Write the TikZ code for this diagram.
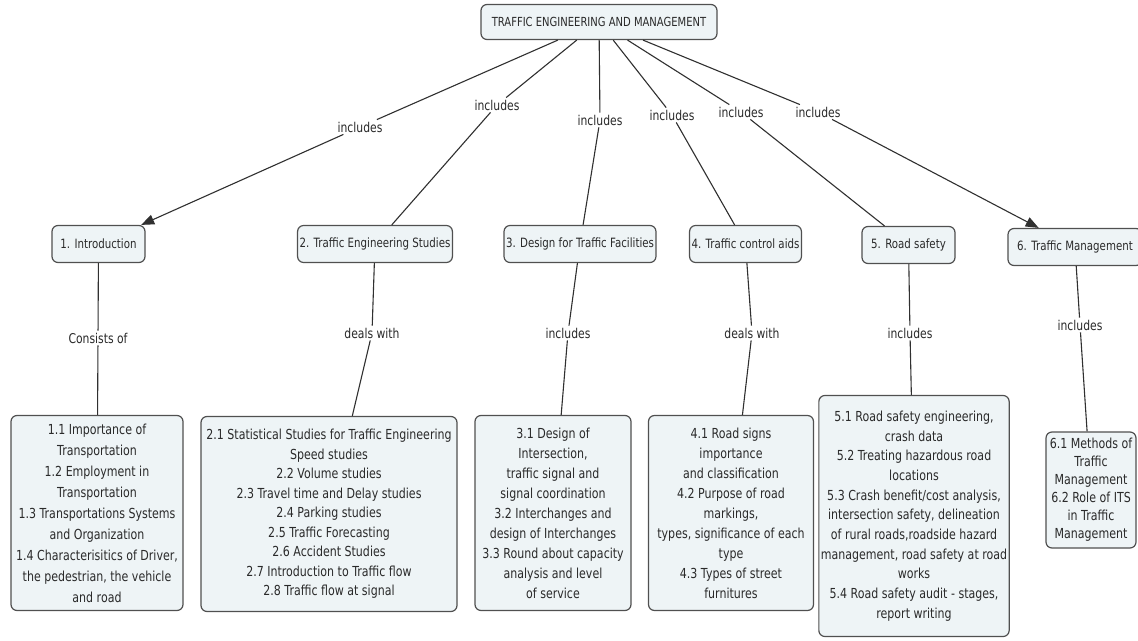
\documentclass[tikz,border=0pt]{standalone}
\usepackage{fontspec}
\setmainfont[FakeStretch=0.8]{DejaVu Sans}
\usetikzlibrary{arrows.meta}
\definecolor{boxfill}{HTML}{EEF4F6}
\definecolor{boxline}{HTML}{505050}
\definecolor{lnk}{HTML}{303030}
\definecolor{txt}{HTML}{2A2A2A}
\begin{document}
\begin{tikzpicture}[x=1pt,y=-1pt,
  every node/.style={text=txt},
  concept/.style={draw=boxline, fill=boxfill, rounded corners=6pt, line width=1.2pt, align=center, inner sep=2pt},
  top/.style={concept, font=\fontsize{12.5}{15}\selectfont},
  mid/.style={concept, font=\fontsize{12.8}{15}\selectfont, minimum height=37pt},
  leaf/.style={concept, font=\fontsize{13.8}{20}\selectfont},
  lbl/.style={font=\fontsize{13.5}{15}\selectfont, inner sep=2pt},
  link/.style={draw=lnk, line width=1.1pt},
  arr/.style={link, -{Triangle[length=13pt,width=10pt]}}
]
\useasboundingbox (0,0) rectangle (1138,640);
\fill[white] (0,0) rectangle (1138,640);

\node[top, minimum width=236pt, minimum height=35pt] (root) at (599,22) {TRAFFIC ENGINEERING AND MANAGEMENT};

\node[mid, minimum width=93pt]  (c1) at (98.5,244) {1. Introduction};
\node[mid, minimum width=146pt] (c2) at (375,244) {2. Traffic Engineering Studies};
\node[mid, minimum width=146pt] (c3) at (580,244) {3. Design for Traffic Facilities};
\node[mid, minimum width=110pt] (c4) at (745.5,244) {4. Traffic control aids};
\node[mid, minimum width=93pt]  (c5) at (908.5,245) {5. Road safety};
\node[mid, minimum width=134pt] (c6) at (1075,247) {6. Traffic Management};

\node[lbl] (i1) at (360,127) {includes};
\node[lbl] (i2) at (497,105) {includes};
\node[lbl] (i3) at (600,120) {includes};
\node[lbl] (i4) at (672,115) {includes};
\node[lbl] (i5) at (741,112) {includes};
\node[lbl] (i6) at (818,112) {includes};

\draw[link] (root) -- (i1); \draw[arr] (i1) -- (c1);
\draw[link] (root) -- (i2); \draw[link] (i2) -- (c2);
\draw[link] (root) -- (i3); \draw[link] (i3) -- (c3);
\draw[link] (root) -- (i4); \draw[link] (i4) -- (c4);
\draw[link] (root) -- (i5); \draw[link] (i5) -- (c5);
\draw[link] (root) -- (i6); \draw[arr] (i6) -- (c6);

\node[leaf, font=\fontsize{13.8}{21}\selectfont, minimum width=172pt, minimum height=195pt] (d1) at (97,513) {1.1 Importance of\\Transportation\\1.2 Employment in\\Transportation\\1.3 Transportations Systems\\and Organization\\1.4 Characterisitics of Driver,\\the pedestrian, the vehicle\\and road};
\node[leaf, font=\fontsize{13.8}{19.5}\selectfont, minimum width=256pt, minimum height=195pt] (d2) at (329,514) {2.1 Statistical Studies for Traffic Engineering\\Speed studies\\2.2 Volume studies\\2.3 Travel time and Delay studies\\2.4 Parking studies\\2.5 Traffic Forecasting\\2.6 Accident Studies\\2.7 Introduction to Traffic flow\\2.8 Traffic flow at signal};
\node[leaf, minimum width=156pt, minimum height=195pt] (d3) at (553,513) {3.1 Design of\\Intersection,\\traffic signal and\\signal coordination\\3.2 Interchanges and\\design of Interchanges\\3.3 Round about capacity\\analysis and level\\of service};
\node[leaf, minimum width=165pt, minimum height=195pt] (d4) at (731,513) {4.1 Road signs\\importance\\and classification\\4.2 Purpose of road\\markings,\\types, significance of each\\type\\4.3 Types of street\\furnitures};
\node[leaf, font=\fontsize{13.8}{19.7}\selectfont, minimum width=190pt, minimum height=241pt] (d5) at (914,516) {5.1 Road safety engineering,\\crash data\\5.2 Treating hazardous road\\locations\\5.3 Crash benefit/cost analysis,\\intersection safety, delineation\\of rural roads,roadside hazard\\management, road safety at road\\works\\5.4 Road safety audit - stages,\\report writing};
\node[leaf, font=\fontsize{13.8}{18}\selectfont, minimum width=90pt, minimum height=116pt] (d6) at (1091,490) {6.1 Methods of\\Traffic\\Management\\6.2 Role of ITS\\in Traffic\\Management};

\node[lbl] (k1) at (98,338) {Consists of};
\node[lbl] (k2) at (372,333) {deals with};
\node[lbl] (k3) at (568,333) {includes};
\node[lbl] (k4) at (752,333) {deals with};
\node[lbl] (k5) at (910,333) {includes};
\node[lbl] (k6) at (1080,325) {includes};

\draw[link] (c1) -- (k1); \draw[link] (k1) -- (d1);
\draw[link] (c2) -- (k2); \draw[link] (k2) -- (d2);
\draw[link] (c3) -- (k3); \draw[link] (k3) -- (d3);
\draw[link] (c4) -- (k4); \draw[link] (k4) -- (d4);
\draw[link] (c5) -- (k5); \draw[link] (k5) -- (d5);
\draw[link] (c6) -- (k6); \draw[link] (k6) -- (d6);
\end{tikzpicture}
\end{document}
